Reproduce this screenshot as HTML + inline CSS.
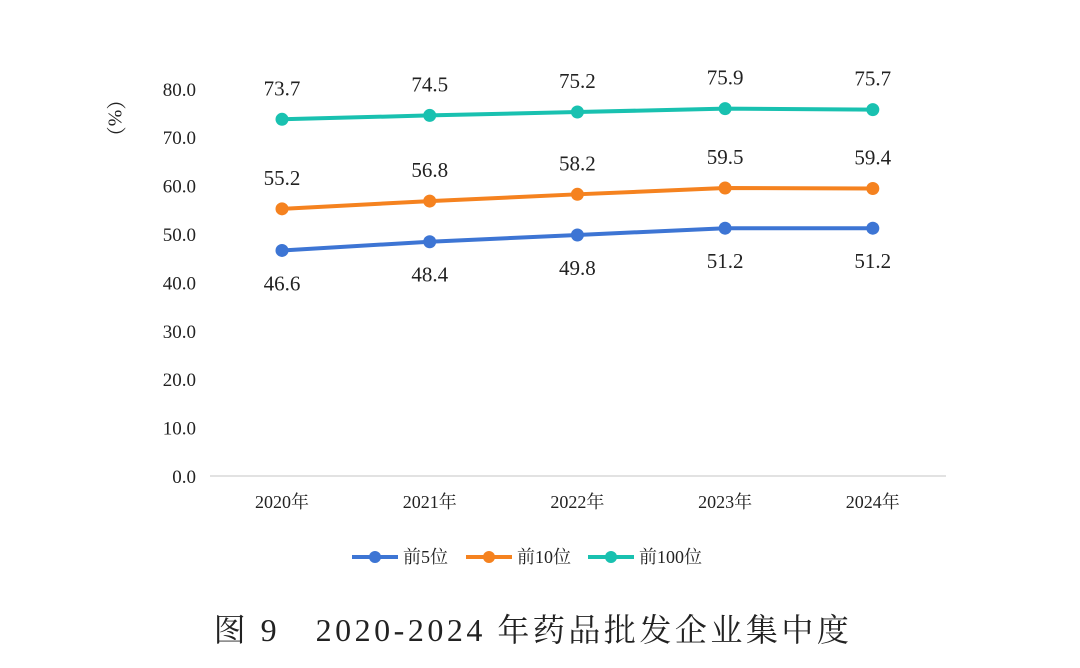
<!DOCTYPE html>
<html><head><meta charset="utf-8"><style>
body{margin:0;background:#fff}
svg text{font-family:"Liberation Serif","Noto Serif CJK SC",serif;fill:#222}
</style></head><body>
<svg id="c" width="1080" height="663" viewBox="0 0 1080 663">
<text x="113" y="118" font-size="20" transform="rotate(90 113 118)" text-anchor="middle" dominant-baseline="middle">（%）</text>
<line x1="210" y1="476" x2="946" y2="476" stroke="#d9d9d9" stroke-width="1.5"/>
<g id="yt"></g><g id="xt"></g><g id="series"></g>
<g font-size="18">
<g><line x1="352" y1="557" x2="398" y2="557" stroke="#3d75d4" stroke-width="4"/><circle cx="375" cy="557" r="6" fill="#3d75d4"/><text x="403" y="563" font-size="18">前5位</text></g>
<g><line x1="466" y1="557" x2="512" y2="557" stroke="#f5821f" stroke-width="4"/><circle cx="489" cy="557" r="6" fill="#f5821f"/><text x="517" y="563" font-size="18">前10位</text></g>
<g><line x1="588" y1="557" x2="634" y2="557" stroke="#19c1b0" stroke-width="4"/><circle cx="611" cy="557" r="6" fill="#19c1b0"/><text x="639" y="563" font-size="18">前100位</text></g>
</g>
<text x="533" y="641" font-size="32" text-anchor="middle" letter-spacing="3.5">图 9　2020-2024 年药品批发企业集中度</text>
</svg>
<script>
const categories=["2020年","2021年","2022年","2023年","2024年"];
const top5=[46.6,48.4,49.8,51.2,51.2];
const top10=[55.2,56.8,58.2,59.5,59.4];
const top100=[73.7,74.5,75.2,75.9,75.7];
const yTicks=[0,10,20,30,40,50,60,70,80];
const NS="http://www.w3.org/2000/svg";
const x=i=>282+i*147.7;
const y=v=>476-v*4.84;
function mk(tag,attrs,parent,txt){const e=document.createElementNS(NS,tag);for(const k in attrs)e.setAttribute(k,attrs[k]);if(txt!=null)e.textContent=txt;parent.appendChild(e);return e;}
const yt=document.getElementById('yt');
yTicks.forEach(v=>{const t=mk('text',{x:196,y:y(v)+7,'font-size':19,'text-anchor':'end'},yt,v.toFixed(1));

});
const xt=document.getElementById('xt');
categories.forEach((c,i)=>{const t=mk('text',{x:x(i),y:508,'font-size':18,'text-anchor':'middle'},xt,c);

});
const sg=document.getElementById('series');
[[top5,'#3d75d4',33,'top5'],[top10,'#f5821f',-31,'top10'],[top100,'#19c1b0',-31,'top100']].forEach(([d,col,off,nm])=>{
const p=mk('polyline',{points:d.map((v,i)=>x(i)+','+y(v)).join(' '),fill:'none',stroke:col,'stroke-width':4},sg);


d.forEach((v,i)=>{const c=mk('circle',{cx:x(i),cy:y(v),r:6.5,fill:col},sg);


const t=mk('text',{x:x(i),y:y(v)+off+7,'font-size':21,'text-anchor':'middle'},sg,v.toFixed(1));

});
});
</script>
</body></html>
